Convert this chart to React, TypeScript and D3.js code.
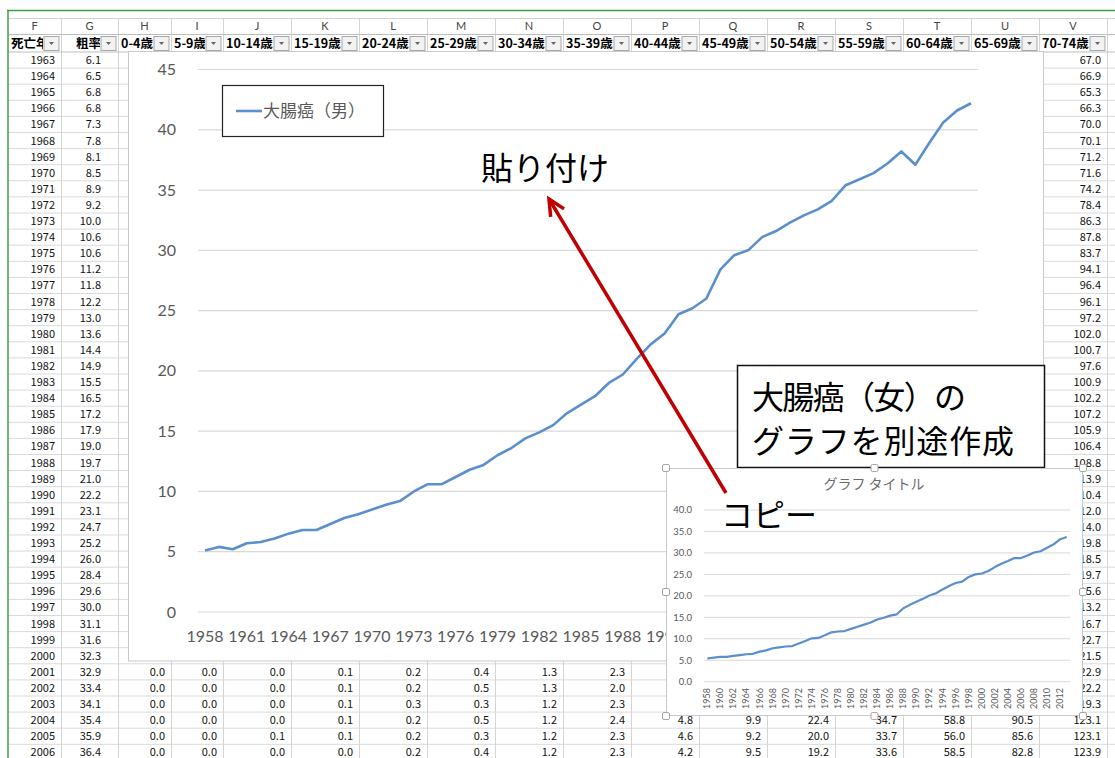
import React from "react";
import * as d3 from "d3";

// 大腸癌 粗死亡率（人口10万対）
const years = [
  1958, 1959, 1960, 1961, 1962, 1963, 1964, 1965, 1966, 1967, 1968, 1969, 1970, 1971,
  1972, 1973, 1974, 1975, 1976, 1977, 1978, 1979, 1980, 1981, 1982, 1983, 1984, 1985,
  1986, 1987, 1988, 1989, 1990, 1991, 1992, 1993, 1994, 1995, 1996, 1997, 1998, 1999,
  2000, 2001, 2002, 2003, 2004, 2005, 2006, 2007, 2008, 2009, 2010, 2011, 2012, 2013,
];
const maleRate = [
  5.1, 5.4, 5.2, 5.7, 5.8, 6.1, 6.5, 6.8, 6.8, 7.3, 7.8, 8.1, 8.5, 8.9,
  9.2, 10.0, 10.6, 10.6, 11.2, 11.8, 12.2, 13.0, 13.6, 14.4, 14.9, 15.5, 16.5, 17.2,
  17.9, 19.0, 19.7, 21.0, 22.2, 23.1, 24.7, 25.2, 26.0, 28.4, 29.6, 30.0, 31.1, 31.6,
  32.3, 32.9, 33.4, 34.1, 35.4, 35.9, 36.4, 37.2, 38.2, 37.1, 38.9, 40.6, 41.6, 42.2,
];
const femaleRate = [
  5.4, 5.6, 5.8, 5.8, 6.0, 6.2, 6.4, 6.5, 7.0, 7.3, 7.8, 8.0, 8.2, 8.3,
  8.9, 9.5, 10.1, 10.2, 10.8, 11.5, 11.7, 11.8, 12.3, 12.8, 13.3, 13.8, 14.5, 14.9,
  15.4, 15.7, 17.1, 17.9, 18.6, 19.3, 20.1, 20.6, 21.5, 22.3, 23.0, 23.3, 24.4, 25.0,
  25.2, 25.8, 26.7, 27.5, 28.1, 28.8, 28.8, 29.4, 30.1, 30.4, 31.2, 32.0, 33.2, 33.7,
];
const mainTicks = [0, 5, 10, 15, 20, 25, 30, 35, 40, 45];
const smallTicks = [0, 5, 10, 15, 20, 25, 30, 35, 40];

// spreadsheet behind the charts
const colLetters = ["F", "G", "H", "I", "J", "K", "L", "M", "N", "O", "P", "Q", "R", "S", "T", "U", "V"];
const colFields = [
  "死亡年度", "粗率", "0-4歳", "5-9歳", "10-14歳", "15-19歳", "20-24歳", "25-29歳", "30-34歳",
  "35-39歳", "40-44歳", "45-49歳", "50-54歳", "55-59歳", "60-64歳", "65-69歳", "70-74歳",
];
const sheetYears = years.slice(5, 49); // 1963-2006
const crudeRate = maleRate.slice(5, 49);
const age70to74 = [
  67.0, 66.9, 65.3, 66.3, 70.0, 70.1, 71.2, 71.6, 74.2, 78.4,
  86.3, 87.8, 83.7, 94.1, 96.4, 96.1, 97.2, 102.0, 100.7, 97.6,
  100.9, 102.2, 107.2, 105.9, 106.4, 108.8, 113.9, 110.4, 112.0, 114.0,
  119.8, 118.5, 119.7, 115.6, 113.2, 116.7, 122.7, 121.5, 122.9, 122.2,
  119.3, 123.1, 123.1, 123.9,
];
const lowerYears = [2001, 2002, 2003, 2004, 2005, 2006];
const lowerRows = [
  [0.0, 0.0, 0.0, 0.1, 0.2, 0.4, 1.3, 2.3],
  [0.0, 0.0, 0.0, 0.1, 0.2, 0.5, 1.3, 2.0],
  [0.0, 0.0, 0.0, 0.1, 0.3, 0.3, 1.2, 2.3],
  [0.0, 0.0, 0.0, 0.1, 0.2, 0.5, 1.2, 2.4, 4.8, 9.9, 22.4, 34.7, 58.8, 90.5],
  [0.0, 0.0, 0.1, 0.1, 0.2, 0.3, 1.2, 2.3, 4.6, 9.2, 20.0, 33.7, 56.0, 85.6],
  [0.0, 0.0, 0.0, 0.0, 0.2, 0.4, 1.2, 2.3, 4.2, 9.5, 19.2, 33.6, 58.5, 82.8],
];

const W = 1115;
const H = 758;
const JP = "'Noto Sans CJK JP', 'Noto Sans', sans-serif";
const NUM = "Lato, 'Open Sans', sans-serif";
const BLUE = "#5b8fcc";
const GREY = "#595959";
const COL_EDGES = [8, 61, 118, 171, 223, 291, 359, 427, 495, 563, 631, 699, 767, 835, 903, 971, 1039, 1107, 1175];

const Sheet = () => {
  const rowY = d3.scaleBand<number>().domain(sheetYears).range([52, 52 + sheetYears.length * 16.1]);
  const rh = rowY.bandwidth();
  const cellRight = (c: number) => COL_EDGES[c + 1] - 6;
  return (
    <g>
      {/* grid */}
      {sheetYears.map((yr) => (
        <line key={"r" + yr} x1={8} x2={W} y1={rowY(yr)! + rh} y2={rowY(yr)! + rh} stroke="#dadada" />
      ))}
      {COL_EDGES.map((x, i) => (
        <line key={"c" + i} x1={x + 0.5} x2={x + 0.5} y1={18} y2={H} stroke={i === 0 ? "none" : "#d4d4d4"} />
      ))}
      <line x1={8} x2={W} y1={18.5} y2={18.5} stroke="#d0d0d0" />
      <line x1={8} x2={W} y1={34.5} y2={34.5} stroke="#bdbdbd" />
      <line x1={8} x2={W} y1={52} y2={52} stroke="#bdbdbd" />
      {/* headers */}
      <defs>
        {colLetters.map((_, i) => (
          <clipPath key={i} id={"hc" + i}>
            <rect x={COL_EDGES[i]} y={34} width={COL_EDGES[i + 1] - COL_EDGES[i] - 18} height={18} />
          </clipPath>
        ))}
      </defs>
      {colLetters.map((l, i) => (
        <text key={"l" + l} x={(COL_EDGES[i] + COL_EDGES[i + 1]) / 2} y={30} textAnchor="middle"
          fontFamily={NUM} fontSize={11} fill="#444">{l}</text>
      ))}
      {colFields.map((f, i) => {
        const r = COL_EDGES[i + 1];
        return (
          <g key={"f" + i}>
            <text x={COL_EDGES[i] + (i === 1 ? 15 : 3)} y={48} clipPath={`url(#hc${i})`}
              fontFamily={JP} fontSize={12.5} fontWeight="bold" fill="#000">{f}</text>
            <rect x={r - 17} y={36.5} width={15} height={14} fill="#f2f2f2" stroke="#a8a8a8" />
            <path d={`M${r - 12},42 L${r - 7},42 L${r - 9.5},45 Z`} fill="#666" />
          </g>
        );
      })}
      {/* cells */}
      {sheetYears.map((yr, i) => {
        const cy = rowY(yr)! + rh / 2 + 4;
        return (
          <g key={"v" + yr} fontFamily={JP} fontSize={11} fill="#111" textAnchor="end">
            <text x={55} y={cy}>{yr}</text>
            <text x={101} y={cy}>{crudeRate[i].toFixed(1)}</text>
            <text x={cellRight(16)} y={cy}>{age70to74[i].toFixed(1)}</text>
          </g>
        );
      })}
      {lowerYears.map((yr, ri) => {
        const cy = rowY(yr)! + rh / 2 + 4;
        return (
          <g key={"lw" + yr} fontFamily={JP} fontSize={11} fill="#111" textAnchor="end">
            {lowerRows[ri].map((v, ci) => (
              <text key={ci} x={cellRight(ci + 2)} y={cy}>{v.toFixed(1)}</text>
            ))}
          </g>
        );
      })}
      {/* window frame */}
      <line x1={7} x2={W} y1={10.5} y2={10.5} stroke="#3f9f46" strokeWidth={1.5} />
      <line x1={8} x2={8} y1={10} y2={H} stroke="#3f9f46" strokeWidth={1.5} />
    </g>
  );
};

const MainChart = () => {
  const x = d3.scaleBand<number>().domain(years).range([198, 978]);
  const y = d3.scaleLinear().domain([0, 45]).range([612, 69.5]);
  const cx = (yr: number) => x(yr)! + x.bandwidth() / 2;
  const line = d3.line<number>().x((_, i) => cx(years[i])).y((d) => y(d));
  return (
    <g>
      <rect x={128.5} y={51.5} width={915} height={609.5} fill="#fff" stroke="#c9c9c9" />
      {mainTicks.map((t) => (
        <g key={t}>
          <line x1={198} x2={978} y1={y(t)} y2={y(t)} stroke="#d9d9d9" strokeWidth={1.2} />
          <text x={176} y={y(t)} dy="0.35em" textAnchor="end" fontFamily={NUM} fontSize={16} fill={GREY}>{t}</text>
        </g>
      ))}
      {years.filter((_, i) => i % 3 === 0).map((yr) => (
        <text key={yr} x={cx(yr)} y={641.5} textAnchor="middle" fontFamily={NUM} fontSize={16} fill={GREY}>{yr}</text>
      ))}
      <path d={line(maleRate)!} fill="none" stroke={BLUE} strokeWidth={2.6} strokeLinejoin="round" />
      <rect x={222.5} y={85.5} width={161} height={51} fill="#fff" stroke="#222" strokeWidth={1.2} />
      <line x1={236} x2={262} y1={111} y2={111} stroke={BLUE} strokeWidth={2.6} />
      <text x={263} y={117} fontFamily={JP} fontSize={17} fill={GREY}>大腸癌（男）</text>
    </g>
  );
};

const SmallChart = () => {
  const x = d3.scaleBand<number>().domain(years).range([704, 1070]);
  const y = d3.scaleLinear().domain([0, 40]).range([681.7, 510]);
  const cx = (yr: number) => x(yr)! + x.bandwidth() / 2;
  const line = d3.line<number>().x((_, i) => cx(years[i])).y((d) => y(d));
  const handles = [
    [666, 468], [874.5, 468], [1083, 468], [666, 592], [1083, 592], [666, 716], [874.5, 716], [1083, 716],
  ];
  return (
    <g>
      <rect x={666.5} y={468.5} width={416} height={247} fill="#fff" stroke="#c8c8c8" />
      <text x={874} y={489} textAnchor="middle" fontFamily={JP} fontSize={14} fill="#6b6b6b">グラフ タイトル</text>
      {smallTicks.map((t) => (
        <g key={t}>
          <line x1={704} x2={1070} y1={y(t)} y2={y(t)} stroke="#d9d9d9" />
          <text x={692} y={y(t)} dy="0.35em" textAnchor="end" fontFamily={NUM} fontSize={9.5} fill={GREY}>{t.toFixed(1)}</text>
        </g>
      ))}
      {years.filter((_, i) => i % 2 === 0).map((yr) => (
        <text key={yr} transform={`translate(${cx(yr) + 3},688) rotate(-90)`} textAnchor="end"
          fontFamily={NUM} fontSize={9} fill={GREY}>{yr}</text>
      ))}
      <path d={line(femaleRate)!} fill="none" stroke={BLUE} strokeWidth={2.2} strokeLinejoin="round" />
      {handles.map(([hx, hy], i) => (
        <rect key={i} x={hx - 3.5} y={hy - 3.5} width={7} height={7} rx={1.5} fill="#fff" stroke="#a6a6a6" />
      ))}
    </g>
  );
};

const Arrow = () => {
  const from = [726, 493];
  const to = [549, 199];
  const a = Math.atan2(to[1] - from[1], to[0] - from[0]);
  const L = 18;
  const b1 = [to[0] - L * Math.cos(a - 0.45), to[1] - L * Math.sin(a - 0.45)];
  const b2 = [to[0] - L * Math.cos(a + 0.45), to[1] - L * Math.sin(a + 0.45)];
  return (
    <g fill="none" stroke="#c00000" strokeWidth={3.5} strokeLinecap="butt">
      <line x1={from[0]} y1={from[1]} x2={to[0]} y2={to[1]} />
      <path d={`M${b1[0]},${b1[1]} L${to[0]},${to[1]} L${b2[0]},${b2[1]}`} strokeLinejoin="miter" />
    </g>
  );
};

export default function App() {
  return (
    <svg width={W} height={H} style={{ position: "absolute", left: 0, top: 0, background: "#fff" }}>
      <rect width={W} height={H} fill="#fff" />
      <Sheet />
      <MainChart />
      <text x={545} y={180} textAnchor="middle" fontFamily={JP} fontSize={32} fill="#000">貼り付け</text>
      <rect x={737.5} y={365.5} width={307} height={102} fill="#fff" stroke="#111" strokeWidth={1.5} />
      <text x={752} y={409} fontFamily={JP} fontSize={32} fill="#000" textLength={214} lengthAdjust="spacing">大腸癌（女）の</text>
      <text x={752} y={453} fontFamily={JP} fontSize={32} fill="#000" textLength={262} lengthAdjust="spacing">グラフを別途作成</text>
      <SmallChart />
      <Arrow />
      <text x={721} y={527} fontFamily={JP} fontSize={32} fill="#000">コピー</text>
    </svg>
  );
}
